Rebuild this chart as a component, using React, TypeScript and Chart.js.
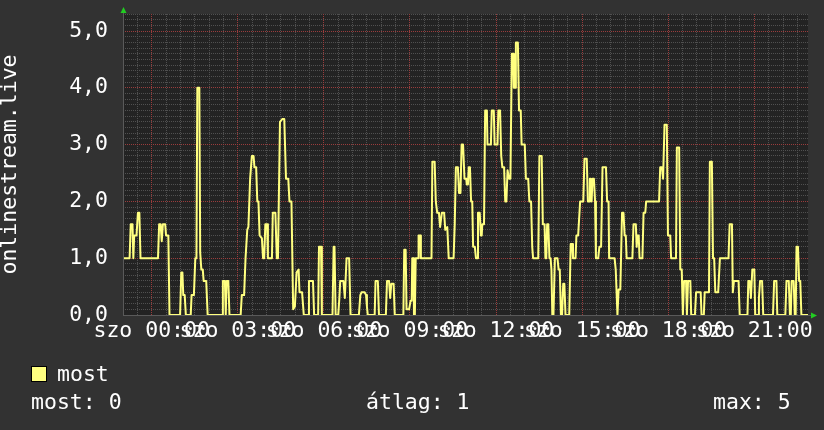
import React, { useEffect, useRef } from 'react';
import { Chart, registerables } from 'chart.js';

Chart.register(...registerables);

// ---- data ----
const seriesLabel = 'most';
const yTitle = 'onlinestream.live';

// time in hours relative to szo 00:00
const hours = [
  -1.0, -0.77, -0.73, -0.67, -0.64, -0.61, -0.53, -0.48, -0.43, -0.39,
  0.22, 0.26, 0.31, 0.35, 0.39, 0.47, 0.5, 0.58, 0.62, 0.99,
  1.03, 1.07, 1.1, 1.15, 1.19, 1.36, 1.39, 1.47, 1.52, 1.56,
  1.59, 1.66, 1.69, 1.73, 1.78, 1.81, 1.9, 1.95, 2.45, 2.48,
  2.55, 2.58, 2.61, 2.67, 2.71, 3.1, 3.14, 3.22, 3.27, 3.33,
  3.37, 3.43, 3.49, 3.55, 3.58, 3.64, 3.68, 3.72, 3.76, 3.84,
  3.88, 3.92, 3.96, 4.02, 4.05, 4.19, 4.22, 4.31, 4.36, 4.4,
  4.47, 4.55, 4.62, 4.68, 4.76, 4.8, 4.87, 4.93, 4.99, 5.05,
  5.12, 5.15, 5.24, 5.3, 5.45, 5.48, 5.62, 5.66, 5.8, 5.83,
  5.9, 5.93, 6.3, 6.34, 6.37, 6.41, 6.5, 6.54, 6.57, 6.68,
  6.73, 6.79, 6.88, 6.93, 7.22, 7.27, 7.31, 7.42, 7.47, 7.5,
  7.53, 7.77, 7.8, 7.88, 7.92, 8.16, 8.2, 8.27, 8.31, 8.35,
  8.43, 8.47, 8.77, 8.8, 8.85, 8.88, 8.97, 9.02, 9.06, 9.08,
  9.12, 9.14, 9.17, 9.2, 9.28, 9.3, 9.36, 9.38, 9.75, 9.78,
  9.86, 9.9, 9.95, 10.01, 10.05, 10.08, 10.11, 10.19, 10.23, 10.3,
  10.35, 10.52, 10.56, 10.6, 10.67, 10.71, 10.76, 10.8, 10.85, 10.9,
  10.96, 10.98, 11.02, 11.05, 11.09, 11.13, 11.17, 11.2, 11.26, 11.3,
  11.34, 11.37, 11.43, 11.47, 11.5, 11.52, 11.58, 11.62, 11.68, 11.7,
  11.82, 11.85, 11.92, 11.95, 12.05, 12.08, 12.14, 12.18, 12.22, 12.28,
  12.32, 12.36, 12.4, 12.45, 12.5, 12.55, 12.6, 12.62, 12.66, 12.69,
  12.76, 12.8, 12.86, 12.89, 13.0, 13.04, 13.12, 13.16, 13.22, 13.26,
  13.29, 13.47, 13.51, 13.59, 13.63, 13.69, 13.72, 13.75, 13.78, 13.82,
  13.86, 13.9, 13.93, 13.96, 14.0, 14.05, 14.14, 14.18, 14.22, 14.26,
  14.3, 14.34, 14.38, 14.42, 14.55, 14.6, 14.65, 14.68, 14.77, 14.8,
  14.86, 14.93, 15.04, 15.08, 15.16, 15.2, 15.24, 15.27, 15.3, 15.33,
  15.36, 15.41, 15.45, 15.48, 15.56, 15.6, 15.66, 15.71, 15.83, 15.87,
  15.92, 15.94, 16.13, 16.17, 16.23, 16.27, 16.33, 16.39, 16.44, 16.48,
  16.52, 16.55, 16.75, 16.79, 16.87, 16.9, 16.93, 16.97, 17.0, 17.1,
  17.14, 17.2, 17.23, 17.68, 17.72, 17.78, 17.82, 17.85, 17.87, 17.95,
  17.99, 18.07, 18.1, 18.27, 18.3, 18.38, 18.42, 18.47, 18.51, 18.55,
  18.62, 18.65, 18.69, 18.77, 18.8, 18.93, 18.97, 19.13, 19.16, 19.24,
  19.27, 19.42, 19.45, 19.52, 19.56, 19.6, 19.64, 19.74, 19.8, 20.1,
  20.14, 20.22, 20.25, 20.29, 20.45, 20.49, 20.76, 20.79, 20.84, 20.88,
  20.93, 21.0, 21.03, 21.13, 21.16, 21.2, 21.27, 21.31, 21.65, 21.69,
  21.77, 21.8, 22.08, 22.12, 22.2, 22.24, 22.27, 22.3, 22.37, 22.41,
  22.44, 22.47, 22.52, 22.56, 22.6, 22.64, 22.87,
];

const most = [
  1.0, 1.0, 1.6, 1.6, 1.0, 1.4, 1.4, 1.8, 1.8, 1.0,
  1.0, 1.6, 1.6, 1.3, 1.6, 1.6, 1.4, 1.4, 0, 0,
  0.75, 0.75, 0.35, 0.35, 0, 0, 0.35, 0.35, 1.0, 1.0,
  4.0, 4.0, 1.1, 0.8, 0.8, 0.6, 0.6, 0, 0, 0.6,
  0.6, 0, 0.6, 0.6, 0, 0, 0.35, 0.35, 1.0, 1.5,
  1.55, 2.4, 2.8, 2.8, 2.6, 2.6, 2.0, 2.0, 1.4, 1.35,
  1.0, 1.0, 1.6, 1.6, 1.0, 1.0, 1.8, 1.8, 1.0, 1.0,
  3.4, 3.45, 3.45, 2.4, 2.4, 2.0, 2.0, 0.1, 0.15, 0.75,
  0.8, 0.4, 0.4, 0, 0, 0.6, 0.6, 0, 0, 1.2,
  1.2, 0, 0, 1.2, 1.2, 0, 0, 0.3, 0.6, 0.6,
  0.3, 1.0, 1.0, 0, 0, 0.35, 0.4, 0.4, 0.35, 0.15,
  0, 0, 0.6, 0.6, 0, 0, 0.6, 0.6, 0.3, 0.55,
  0.55, 0, 0, 1.15, 1.15, 0.1, 0.1, 0.25, 0.25, 1.0,
  1.0, 0, 0, 1.0, 1.0, 1.4, 1.4, 1.0, 1.0, 2.7,
  2.7, 2.0, 1.8, 1.8, 1.55, 1.55, 1.8, 1.8, 1.5, 1.55,
  1.0, 1.0, 1.6, 2.6, 2.6, 2.15, 2.15, 3.0, 3.0, 2.4,
  2.4, 2.3, 2.3, 2.6, 2.6, 2.0, 2.0, 1.2, 1.2, 1.0,
  1.0, 1.8, 1.8, 1.4, 1.4, 1.6, 1.6, 3.6, 3.6, 3.0,
  3.0, 3.6, 3.6, 3.0, 3.0, 3.6, 3.6, 2.8, 2.6, 2.6,
  2.0, 2.0, 2.55, 2.4, 2.4, 4.6, 4.6, 4.0, 4.0, 4.8,
  4.8, 3.6, 3.6, 3.0, 3.0, 2.4, 2.4, 2.0, 2.0, 1.2,
  1.0, 1.0, 2.8, 2.8, 1.6, 1.6, 1.0, 1.0, 1.6, 1.6,
  1.0, 1.0, 0.8, 0, 0, 1.0, 1.0, 0.8, 0.8, 0,
  0, 0.55, 0.55, 0, 0, 1.25, 1.25, 1.0, 1.0, 1.4,
  1.4, 2.0, 2.0, 2.75, 2.75, 2.0, 2.0, 2.4, 2.4, 2.0,
  2.4, 2.4, 2.0, 1.0, 1.0, 1.2, 1.2, 2.6, 2.6, 2.0,
  2.0, 1.0, 1.0, 0.8, 0, 0.45, 0.45, 1.8, 1.8, 1.4,
  1.4, 1.0, 1.0, 1.6, 1.6, 1.2, 1.4, 1.4, 1.0, 1.0,
  1.8, 1.8, 2.0, 2.0, 2.6, 2.6, 2.4, 2.4, 3.35, 3.35,
  1.4, 1.4, 1.0, 1.0, 2.95, 2.95, 0.8, 0.8, 0, 0.6,
  0.6, 0, 0.6, 0.6, 0, 0, 0.4, 0.4, 0, 0,
  0.4, 0.4, 2.7, 2.7, 1.0, 1.0, 0.4, 0.4, 1.0, 1.0,
  1.6, 1.6, 0.4, 0.6, 0.6, 0, 0, 0.6, 0.6, 0.3,
  0.8, 0.8, 0, 0, 0.3, 0.6, 0.6, 0, 0, 0.6,
  0.6, 0, 0, 0.6, 0.6, 0, 0, 0.6, 0.6, 0,
  0, 1.2, 1.2, 0.6, 0.6, 0, 0,
];

const xTickHours = [0, 3, 6, 9, 12, 15, 18, 21];
const xTickLabels = ['szo 00:00', 'szo 03:00', 'szo 06:00', 'szo 09:00', 'szo 12:00', 'szo 15:00', 'szo 18:00', 'szo 21:00'];
const yTickValues = [0, 1, 2, 3, 4, 5];
const yTickLabels = ['0,0', '1,0', '2,0', '3,0', '4,0', '5,0'];
const statLabels = ['most: 0', 'átlag: 1', 'max: 5'];

const X_MIN = -1.0;
const X_MAX = 22.87;
const Y_MIN = 0;
const Y_MAX = 5.3;

// ---- style ----
const FONT = '"DejaVu Sans Mono", monospace';
const FONT_SIZE = 21.5;
const BG = '#323232';
const PLOT_BG = '#232323';
const LINE = '#ffff80';
const GRID_MINOR = '#505050';
const GRID_MAJOR = '#9a3c3c';
const AXIS = '#5a5a5a';
const ARROW = '#22cc22';

const isMajorX = (v: number) => Math.abs(v / 3 - Math.round(v / 3)) < 1e-6;
const isMajorY = (v: number) => Math.abs(v - Math.round(v)) < 1e-6;

const framePlugin = {
  id: 'rrdFrame',
  beforeDraw(chart: any) {
    const { ctx, chartArea: a, width, height } = chart;
    ctx.save();
    ctx.fillStyle = BG;
    ctx.fillRect(0, 0, width, height);
    ctx.fillStyle = PLOT_BG;
    ctx.fillRect(a.left, a.top, a.right - a.left, a.bottom - a.top);
    ctx.restore();
  },
  beforeDatasetsDraw(chart: any) {
    // major grid (dotted, red) through the scales
    const { ctx, chartArea: a, scales } = chart;
    ctx.save();
    ctx.strokeStyle = GRID_MAJOR;
    ctx.lineWidth = 1;
    ctx.setLineDash([1, 1]);
    ctx.beginPath();
    xTickHours.forEach((h) => {
      const px = Math.round(scales.x.getPixelForValue(h) - 0.5) + 0.5;
      ctx.moveTo(px, a.top);
      ctx.lineTo(px, a.bottom);
    });
    yTickValues.forEach((v) => {
      if (v === 0) return;
      const py = Math.round(scales.y.getPixelForValue(v) - 0.5) + 0.5;
      ctx.moveTo(a.left, py);
      ctx.lineTo(a.right, py);
    });
    ctx.stroke();
    ctx.restore();
  },
  afterDraw(chart: any) {
    const { ctx, chartArea: a } = chart;
    ctx.save();
    ctx.strokeStyle = AXIS;
    ctx.lineWidth = 1;
    ctx.beginPath();
    ctx.moveTo(a.left + 0.5, a.bottom);
    ctx.lineTo(a.left + 0.5, a.top - 3);
    ctx.moveTo(a.left, a.bottom + 0.5);
    ctx.lineTo(a.right + 4, a.bottom + 0.5);
    ctx.stroke();
    ctx.fillStyle = ARROW;
    ctx.beginPath();
    ctx.moveTo(a.left - 2.5, a.top - 1);
    ctx.lineTo(a.left + 3.5, a.top - 1);
    ctx.lineTo(a.left + 0.5, a.top - 7);
    ctx.closePath();
    ctx.fill();
    ctx.beginPath();
    ctx.moveTo(a.right + 3, a.bottom - 2.5);
    ctx.lineTo(a.right + 3, a.bottom + 3.5);
    ctx.lineTo(a.right + 9, a.bottom + 0.5);
    ctx.closePath();
    ctx.fill();
    ctx.restore();
  },
};

export default function App() {
  const canvasRef = useRef<HTMLCanvasElement | null>(null);

  useEffect(() => {
    document.body.style.margin = '0';
    document.body.style.background = BG;
    const canvas = canvasRef.current;
    if (!canvas) return;
    const chart = new Chart(canvas, {
      type: 'line',
      data: {
        datasets: [
          {
            label: seriesLabel,
            data: hours.map((h, i) => ({ x: h, y: most[i] })),
            borderColor: LINE,
            backgroundColor: LINE,
            borderWidth: 2,
            pointRadius: 0,
            tension: 0,
            fill: false,
            borderJoinStyle: 'round',
            clip: { left: 0, right: 0, top: 5, bottom: 0 },
          } as any,
        ],
      },
      options: {
        animation: false,
        responsive: false,
        devicePixelRatio: 1,
        events: [],
        layout: { padding: { left: 0, top: 14, right: 16, bottom: 75 } },
        plugins: { legend: { display: false }, tooltip: { enabled: false } },
        scales: {
          x: {
            type: 'linear',
            min: X_MIN,
            max: X_MAX,
            afterBuildTicks: (s: any) => {
              const t: any[] = [];
              for (let i = -1; i <= 45; i++) t.push({ value: i / 2 });
              s.ticks = t;
            },
            afterFit: (s: any) => {
              s.height = 40;
              s.paddingLeft = 0;
              s.paddingRight = 0;
            },
            grid: {
              drawTicks: false,
              lineWidth: 1,
              color: (c: any) => (c.tick && isMajorX(c.tick.value) ? 'rgba(0,0,0,0)' : GRID_MINOR),
            },
            border: { display: false, dash: [1, 1] },
            ticks: {
              autoSkip: false,
              maxRotation: 0,
              minRotation: 0,
              padding: 4,
              color: '#ffffff',
              font: { family: FONT, size: FONT_SIZE },
              callback: (v: any) => {
                const i = xTickHours.findIndex((h) => Math.abs(h - Number(v)) < 1e-6);
                return i >= 0 ? xTickLabels[i] : '';
              },
            },
          },
          y: {
            type: 'linear',
            min: Y_MIN,
            max: Y_MAX,
            afterBuildTicks: (s: any) => {
              const t: any[] = [];
              for (let i = 1; i <= 53; i++) t.push({ value: i / 10 });
              t.unshift({ value: 0 });
              s.ticks = t;
            },
            afterFit: (s: any) => {
              s.width = 123;
              s.paddingTop = 0;
              s.paddingBottom = 0;
            },
            grid: {
              drawTicks: false,
              lineWidth: 1,
              color: (c: any) => (c.tick && isMajorY(c.tick.value) ? 'rgba(0,0,0,0)' : GRID_MINOR),
            },
            border: { display: false, dash: [1, 1] },
            title: {
              display: true,
              text: yTitle,
              color: '#ffffff',
              font: { family: FONT, size: FONT_SIZE, lineHeight: 1 },
              padding: 0,
            },
            ticks: {
              autoSkip: false,
              padding: 15,
              color: '#ffffff',
              font: { family: FONT, size: FONT_SIZE },
              callback: (v: any) => {
                const i = yTickValues.findIndex((t) => Math.abs(t - Number(v)) < 1e-6);
                return i >= 0 ? yTickLabels[i] : '';
              },
            },
          },
        },
      },
      plugins: [framePlugin],
    } as any);
    return () => chart.destroy();
  }, []);

  const textStyle: React.CSSProperties = {
    position: 'absolute',
    fontFamily: FONT,
    fontSize: FONT_SIZE + 'px',
    lineHeight: '22px',
    color: '#ffffff',
    whiteSpace: 'pre',
  };

  return (
    <div style={{ position: 'relative', width: 824, height: 430, background: BG, overflow: 'hidden' }}>
      <canvas ref={canvasRef} width={824} height={430} style={{ display: 'block', width: 824, height: 430 }} />
      <div
        style={{
          position: 'absolute',
          left: 31,
          top: 366,
          width: 14,
          height: 14,
          background: LINE,
          border: '1px solid #000000',
        }}
      />
      <div style={{ ...textStyle, left: 57, top: 362.5 }}>{seriesLabel}</div>
      <div style={{ ...textStyle, left: 31, top: 390.5 }}>{statLabels[0]}</div>
      <div style={{ ...textStyle, left: 366, top: 390.5 }}>{statLabels[1]}</div>
      <div style={{ ...textStyle, left: 713, top: 390.5 }}>{statLabels[2]}</div>
    </div>
  );
}
